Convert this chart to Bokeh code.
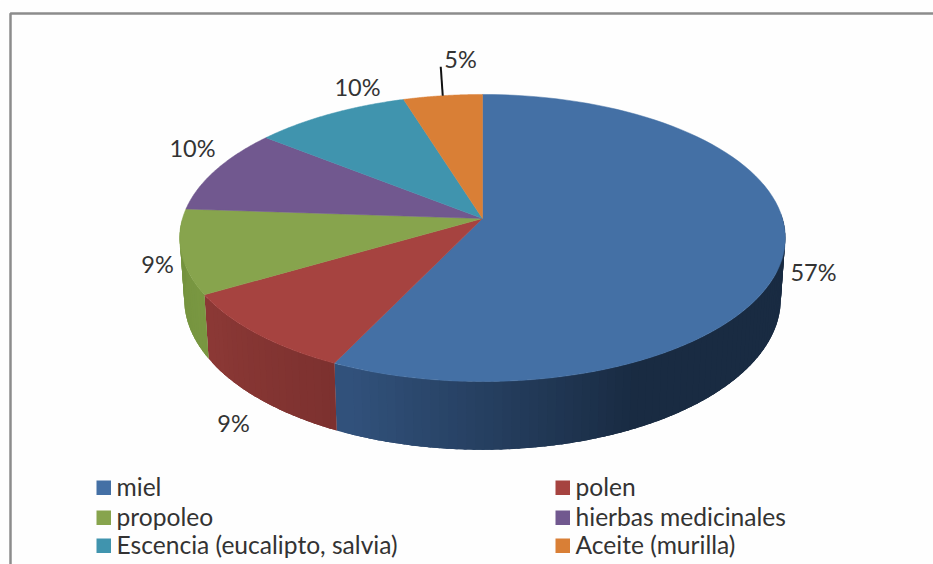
import numpy as np
from bokeh.plotting import figure
from bokeh.models import Range1d
from bokeh.core.properties import value
from bokeh.embed import file_html
from bokeh.resources import INLINE

# ---- data
categories = ["miel", "polen", "propoleo", "hierbas medicinales",
              "Escencia (eucalipto, salvia)", "Aceite (murilla)"]
values = [57.1, 9.45, 9.49, 9.6, 9.5, 4.8]
pct_labels = ["57%", "9%", "9%", "10%", "10%", "5%"]

# ---- styles and layout
top_colors = ["#4470A5", "#A64340", "#87A44D", "#71588F", "#4094AE", "#D97F36"]
wall_near = [(50, 82, 124), (140, 57, 54), (116, 146, 62), (90, 70, 115), (50, 115, 135), (170, 100, 40)]
wall_far = [(25, 43, 66), (124, 49, 47), (122, 152, 66), (90, 70, 115), (50, 115, 135), (170, 100, 40)]
label_x = [813, 233, 157, 192, 357, 460]
label_y = [271, 422, 263, 147, 86, 58]
leg_x = [96, 555, 96, 555, 96, 555]
leg_y = [480, 480, 510, 510, 538, 538]
TEXT = "#333333"
FONT = value("Lato")
FS = "23.5px"
LEG_FS = "24.6px"

CX, CY = 482.0, 218.0
A, B, K = 300.0, 140.9, 0.1359
BOTTOM_Y, BOTTOM_SX, BOTTOM_SY = 278.0, 0.985, 1.05


def rim(theta, cy=CY, sx=1.0, sy=1.0):
    d = 1 + K * np.cos(theta)
    return CX + sx * A * np.sin(theta) / d, cy - sy * B * np.cos(theta) / d


p = figure(width=933, height=564, output_backend="svg", toolbar_location=None,
           x_range=Range1d(0, 933), y_range=Range1d(564, 0), min_border=0)
p.xaxis.visible = False
p.yaxis.visible = False
p.grid.visible = False
p.outline_line_color = None
p.background_fill_color = "#FEFEFE"
p.border_fill_color = "#FEFEFE"

# picture frame
p.line([10, 10, 933], [564, 13, 13], line_color="#8C8C8C", line_width=2.5)

vals = np.array(values, dtype=float)
cum = np.concatenate([[0], np.cumsum(vals)]) / vals.sum() * 2 * np.pi
STEP = np.radians(1.5)
OVERLAP = np.radians(2.0)

# side wall, as overlapping strips carrying the shading
for i in range(len(vals)):
    t0, t1 = cum[i], cum[i + 1]
    n = max(2, int((t1 - t0) / STEP))
    edges = np.linspace(t0, t1, n + 1)
    strips = []
    for a, b in zip(edges[:-1], edges[1:]):
        if np.cos((a + b) / 2) >= 0:
            continue
        # strips run with rising angle and each one is painted over the end of the last
        th = np.linspace(max(a - OVERLAP, t0), b, 5)
        xt, yt = rim(th)
        xb, yb = rim(th[::-1], BOTTOM_Y, BOTTOM_SX, BOTTOM_SY)
        m = (a + b) / 2
        if i == 0:
            f = np.clip((np.radians(205) - m) / np.radians(50), 0, 1)
        else:
            f = 1 - np.clip((m - t0) / (t1 - t0 + 1e-9), 0, 1)
        c = tuple(int(u + (v - u) * f) for u, v in zip(wall_near[i], wall_far[i]))
        strips.append((list(xt) + list(xb), list(yt) + list(yb), "#%02x%02x%02x" % c))
    if strips:
        p.patches([s[0] for s in strips], [s[1] for s in strips],
                  fill_color=[s[2] for s in strips], line_color=None)

# top face
for i in range(len(vals)):
    th = np.linspace(cum[i], cum[i + 1], 90)
    x, y = rim(th)
    p.patch(np.r_[CX, x], np.r_[CY, y], fill_color=top_colors[i],
            line_color=top_colors[i], line_width=0.5)

# leader of the last label
mid = (cum[-2] + cum[-1]) / 2
lx, ly = rim(mid)
p.line([lx, lx - 2], [ly, ly - 29], line_color="#111111", line_width=2)

# percentage labels
p.text(label_x, label_y, text=pct_labels, text_font=FONT, text_font_size=FS,
       text_color=TEXT, text_align="center", text_baseline="middle")

# legend
p.quad(left=leg_x, right=[v + 14.5 for v in leg_x], top=leg_y,
       bottom=[v + 14.5 for v in leg_y], fill_color=top_colors, line_color=None)
p.text([v + 20 for v in leg_x], [v + 6 for v in leg_y], text=categories,
       text_font=FONT, text_font_size=LEG_FS, text_color=TEXT,
       text_align="left", text_baseline="middle")

open("out.html", "w").write(file_html(p, INLINE))
